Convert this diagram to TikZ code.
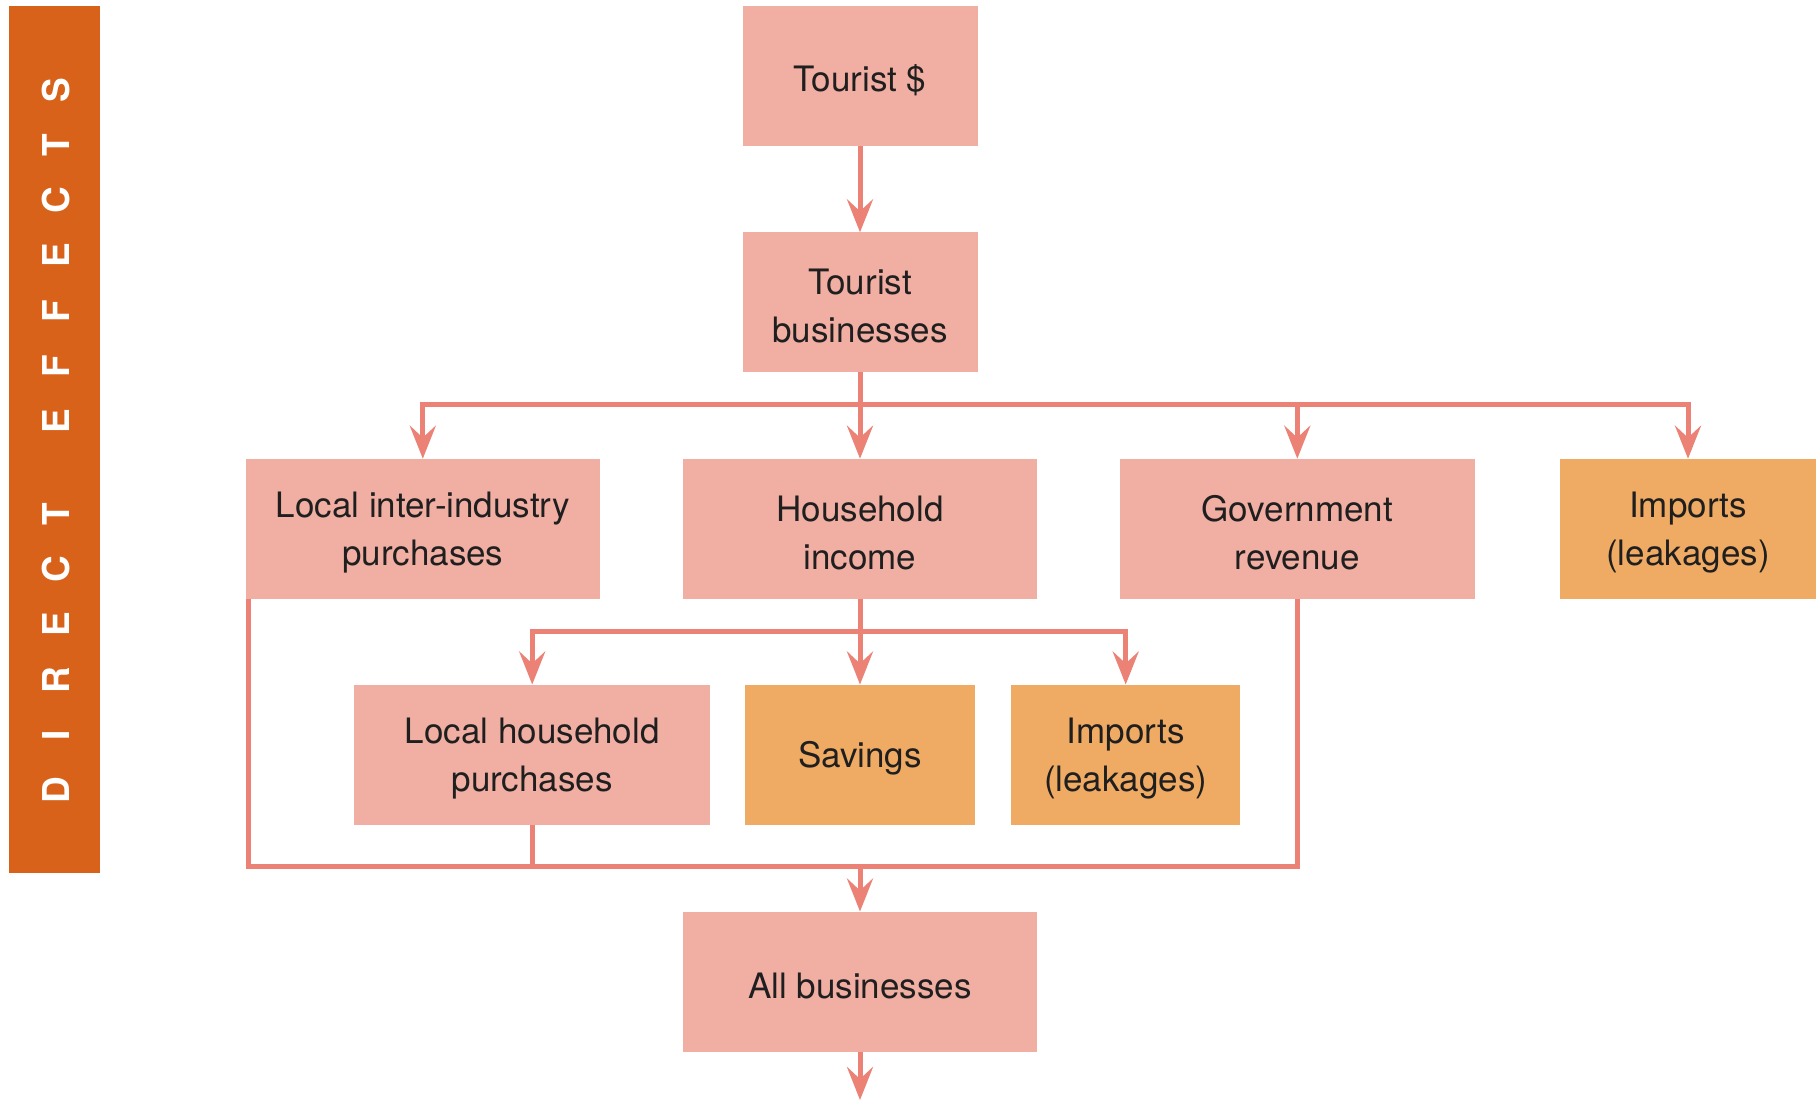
\documentclass[tikz,border=0pt]{standalone}
\usepackage{fontspec}
\setmainfont{TeX Gyre Heros}
\usetikzlibrary{arrows.meta}
\definecolor{barorange}{HTML}{D8621A}
\definecolor{boxpink}{HTML}{F1AEA2}
\definecolor{boxorange}{HTML}{EFAA63}
\definecolor{linecol}{HTML}{EB8275}
\definecolor{txtcol}{HTML}{1F1F1F}
\newcommand\lbx[1]{\makebox[55.3pt]{#1}}
\begin{document}
\begin{tikzpicture}[x=1pt,y=-1pt,
  boxbase/.style={rectangle, inner sep=0pt, outer sep=0pt, draw=none, minimum height=140pt},
  pinkbox/.style={boxbase, fill=boxpink},
  orangebox/.style={boxbase, fill=boxorange},
  txt/.style={inner sep=0pt, align=center, text=txtcol, font=\fontsize{35}{48}\selectfont},
  conn/.style={draw=linecol, line width=5pt, line join=miter},
  arr/.style={conn, -{Stealth[length=33pt,width=26pt,inset=12pt]}}
]
\useasboundingbox (0,0) rectangle (1816,1100);
\fill[white] (0,0) rectangle (1816,1100);

% side bar
\fill[barorange] (9,6) rectangle (100,873);
\node[rotate=90, text=white, font=\bfseries\fontsize{37}{37}\selectfont, inner sep=0pt] (bar) at (56,440)
  {\lbx{D}\lbx{I}\lbx{R}\lbx{E}\lbx{C}\lbx{T}\hspace{37pt}\lbx{E}\lbx{F}\lbx{F}\lbx{E}\lbx{C}\lbx{T}\lbx{S}};

% boxes
\node[pinkbox, minimum width=235pt] (ts) at (860,76) {};
\node[pinkbox, minimum width=235pt] (tb) at (860,302.3) {};
\node[pinkbox, minimum width=354.5pt] (li) at (422.8,528.7) {};
\node[pinkbox, minimum width=354.5pt] (hh) at (860,528.7) {};
\node[pinkbox, minimum width=354.5pt] (gr) at (1297.3,528.7) {};
\node[orangebox, minimum width=256pt] (im1) at (1688,528.7) {};
\node[pinkbox, minimum width=355.5pt] (lh) at (532.2,754.5) {};
\node[orangebox, minimum width=230.5pt] (sv) at (860,754.5) {};
\node[orangebox, minimum width=229.5pt] (im2) at (1125.7,754.5) {};
\node[pinkbox, minimum width=354.5pt] (ab) at (860,981.5) {};

% box texts
\node[txt] (tst) at ([yshift=-4pt]ts.center) {Tourist \$};
\node[txt] (tbt) at ([yshift=-4pt]tb.center) {Tourist\\businesses};
\node[txt] (lit) at ([yshift=-4pt]li.center) {Local inter-industry\\purchases};
\node[txt] (hht) at ([yshift=-4pt]hh.center) {Household\\income};
\node[txt] (grt) at ([yshift=-4pt]gr.center) {Government\\revenue};
\node[txt] (im1t) at ([yshift=-4pt]im1.center) {Imports\\(leakages)};
\node[txt] (lht) at ([yshift=-4pt]lh.center) {Local household\\purchases};
\node[txt] (svt) at ([yshift=-4pt]sv.center) {Savings};
\node[txt] (im2t) at ([yshift=-4pt]im2.center) {Imports\\(leakages)};
\node[txt] (abt) at ([yshift=-4pt]ab.center) {All businesses};

% junction coordinates
\coordinate (j1) at (860,404);
\coordinate (j2) at (860,631);
\coordinate (j3) at (860,866);
\coordinate (bend) at (860,1100);

% connectors
\draw[arr] (ts) -- (tb);
\draw[conn] (tb.south) -- (j1);
\draw[arr] (j1) -| (li.north);
\draw[arr] (j1) -| (im1.north);
\draw[arr] (j1) -| (gr.north);
\draw[arr] (j1) -- (hh.north);

\draw[conn] (hh.south) -- (j2);
\draw[arr] (j2) -| (lh.north);
\draw[arr] (j2) -| (im2.north);
\draw[arr] (j2) -- (sv.north);

\draw[conn] ([xshift=2.5pt]li.south west) |- (j3) -| (gr.south);
\draw[conn] (lh.south) -- (lh.south |- j3);
\draw[arr] (j3) -- (ab.north);
\draw[arr] (ab.south) -- (bend);
\end{tikzpicture}
\end{document}
